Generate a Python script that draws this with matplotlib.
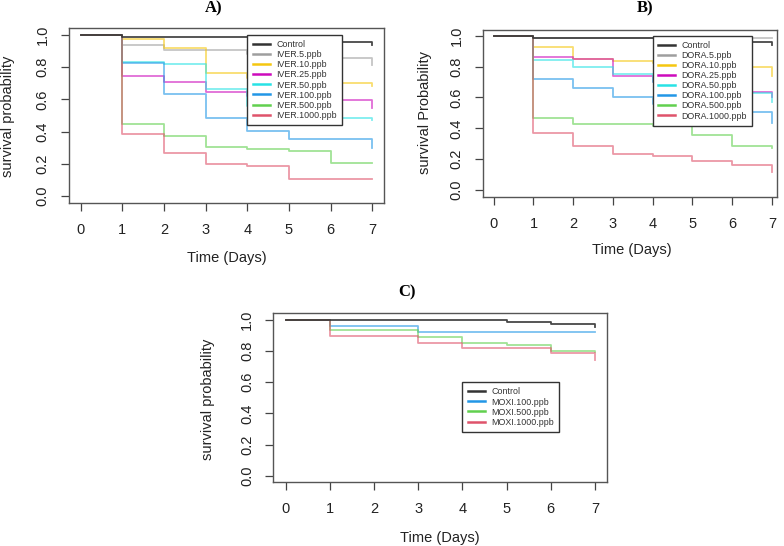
import matplotlib
matplotlib.use("Agg")
import matplotlib.pyplot as plt
from matplotlib.lines import Line2D

plt.rcParams['font.family'] = ['Liberation Sans', 'DejaVu Sans']

days = [0, 1, 2, 3, 4, 5, 6, 7]

# Panel A (ivermectin)
labels_a = ["Control", "IVER.5.ppb", "IVER.10.ppb", "IVER.25.ppb", "IVER.50.ppb",
            "IVER.100.ppb", "IVER.500.ppb", "IVER.1000.ppb"]
surv_a = [
    [1, 0.985, 0.985, 0.985, 0.985, 0.958, 0.958, 0.938],
    [1, 0.936, 0.908, 0.908, 0.880, 0.855, 0.855, 0.812],
    [1, 0.973, 0.922, 0.767, 0.730, 0.700, 0.700, 0.685],
    [1, 0.746, 0.711, 0.646, 0.620, 0.598, 0.598, 0.547],
    [1, 0.831, 0.819, 0.666, 0.560, 0.485, 0.485, 0.475],
    [1, 0.826, 0.631, 0.485, 0.402, 0.353, 0.353, 0.299],
    [1, 0.445, 0.371, 0.305, 0.290, 0.279, 0.206, 0.206],
    [1, 0.388, 0.268, 0.198, 0.186, 0.104, 0.104, 0.104],
]

# Panel B (doramectin)
labels_b = ["Control", "DORA.5.ppb", "DORA.10.ppb", "DORA.25.ppb", "DORA.50.ppb",
            "DORA.100.ppb", "DORA.500.ppb", "DORA.1000.ppb"]
surv_b = [
    [1, 0.985, 0.985, 0.985, 0.985, 0.957, 0.957, 0.940],
    [1, 0.984, 0.984, 0.984, 0.984, 0.983, 0.983, 0.983],
    [1, 0.925, 0.851, 0.838, 0.820, 0.795, 0.795, 0.741],
    [1, 0.860, 0.848, 0.739, 0.700, 0.637, 0.637, 0.600],
    [1, 0.840, 0.795, 0.752, 0.700, 0.632, 0.632, 0.572],
    [1, 0.719, 0.659, 0.603, 0.560, 0.507, 0.507, 0.436],
    [1, 0.469, 0.426, 0.426, 0.415, 0.356, 0.287, 0.275],
    [1, 0.371, 0.287, 0.231, 0.220, 0.188, 0.160, 0.114],
]

# Panel C (moxidectin)
labels_c = ["Control", "MOXI.100.ppb", "MOXI.500.ppb", "MOXI.1000.ppb"]
surv_c = [
    [1, 1, 1, 1, 1, 0.987, 0.974, 0.951],
    [1, 0.960, 0.960, 0.919, 0.919, 0.919, 0.919, 0.919],
    [1, 0.932, 0.932, 0.887, 0.849, 0.838, 0.801, 0.795],
    [1, 0.897, 0.897, 0.849, 0.817, 0.817, 0.788, 0.742],
]

colors_ab = ["#333333", "#9E9E9E", "#F5C710", "#CD0BBC", "#28E2E5",
             "#2297E6", "#61D04F", "#DF536B"]
colors_c = ["#333333", "#2297E6", "#61D04F", "#DF536B"]

yticks = [0.0, 0.2, 0.4, 0.6, 0.8, 1.0]

W, H = 784, 546
fig = plt.figure(figsize=(W / 100, H / 100), dpi=100)


def make_axes(l, t, r, b):
    return fig.add_axes([l / W, (H - b) / H, (r - l) / W, (b - t) / H])


def style(ax, box, xlim, ylim, title, title_xy, ylabel, ylab_xy, xlab_xy, sers, labels, cols, leg_anchor):
    l, t, r, b = box
    for i, (vals, c) in enumerate(zip(sers, cols)):
        is_ctrl = (i == 0)
        ax.step(days, vals, where='post', color=c, lw=1.3,
                alpha=0.9 if is_ctrl else 0.6, zorder=3 if is_ctrl else 2)
    ax.set_xlim(*xlim)
    ax.set_ylim(*ylim)
    ax.set_xticks(days)
    ax.set_yticks(yticks)
    ax.set_yticklabels([f"{v:.1f}" for v in yticks], rotation=90, va='center')
    ax.tick_params(axis='both', direction='out', length=5.8, width=0.9, color='#444444',
                   labelsize=10.5, labelcolor='#222222')
    ax.tick_params(axis='x', pad=8.5)
    ax.tick_params(axis='y', pad=8)
    for s in ax.spines.values():
        s.set_color('#555555')
        s.set_linewidth(1.0)

    def fx(px):
        return (px - l) / (r - l)

    def fy(py):
        return (b - py) / (b - t)

    ax.set_xlabel("Time (Days)", fontsize=10.5, color='#222222')
    ax.xaxis.set_label_coords(fx(xlab_xy[0]), fy(xlab_xy[1]))
    ax.xaxis.label.set_va('center')
    ax.set_ylabel(ylabel, fontsize=10.5, color='#222222')
    ax.yaxis.set_label_coords(fx(ylab_xy[0]), fy(ylab_xy[1]))
    ax.yaxis.label.set_va('center')
    ax.text(fx(title_xy[0]), fy(title_xy[1]), title, transform=ax.transAxes,
            ha='center', va='center', fontsize=12, fontweight='bold',
            family=['Liberation Serif', 'DejaVu Serif'])

    handles = [Line2D([0], [0], color=c, lw=1.8) for c in cols]
    leg = ax.legend(handles, labels, loc='upper left', bbox_to_anchor=leg_anchor,
                    bbox_transform=ax.transData, fontsize=6.4, frameon=True,
                    fancybox=False, edgecolor='#333333', framealpha=1,
                    borderpad=0.6, labelspacing=0.12, handlelength=1.9,
                    handletextpad=0.75, borderaxespad=0)
    leg.set_zorder(5)
    leg.get_frame().set_linewidth(1.0)
    for txt in leg.get_texts():
        txt.set_color('#333333')


boxA = (69, 28, 384, 202.7)
axA = make_axes(*boxA)
style(axA, boxA, (-0.28, 7.28), (-0.04, 1.043), "A)", (213.5, 8), "survival probability",
      (8.5, 116.7), (226.7, 258), surv_a, labels_a, colors_ab, (4, 1.0))

boxB = (482.7, 30, 777, 196.7)
axB = make_axes(*boxB)
style(axB, boxB, (-0.277, 7.126), (-0.043, 1.037), "B)", (645, 8.5), "survival Probability",
      (425.3, 113), (632, 250), surv_b, labels_b, colors_ab, (4, 1.0))

boxC = (273.3, 313, 607.3, 482)
axC = make_axes(*boxC)
style(axC, boxC, (-0.28, 7.28), (-0.04, 1.043), "C)", (406.7, 292), "survival probability",
      (208.3, 399), (440, 538), surv_c, labels_c, colors_c, (4, 0.6))

fig.savefig("out.png", dpi=100)
